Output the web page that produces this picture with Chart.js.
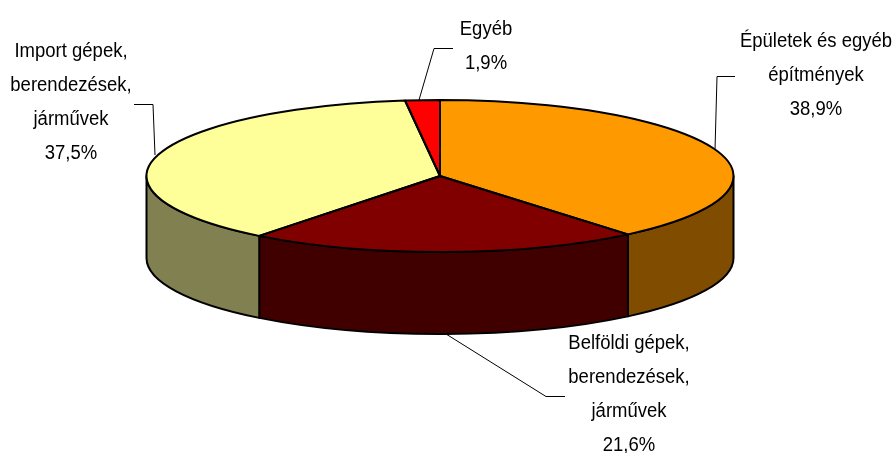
<!DOCTYPE html>
<html><head><meta charset="utf-8">
<style>html,body{margin:0;padding:0;background:#fff}canvas{display:block}</style>
<script src="https://cdn.jsdelivr.net/npm/chart.js@4"></script>
</head><body>
<canvas id="c" width="894" height="453"></canvas>
<script>
const categories = ["Épületek és egyéb építmények","Belföldi gépek, berendezések, járművek","Import gépek, berendezések, járművek","Egyéb"];
const values = [38.9,21.6,37.5,1.9];
const valueLabels = ["38,9%","21,6%","37,5%","1,9%"];
const labelLines = [["Épületek és egyéb","építmények"],["Belföldi gépek,","berendezések,","járművek"],["Import gépek,","berendezések,","járművek"],["Egyéb"]];
const topColors = ["#FF9900","#800000","#FFFF99","#FF0000"];
const sideColors = ["#804D00","#400000","#808050","#800000"];

const view = {cx:440, cy:176, rx:293.5, ry:76, depth:82};
const labelAnchors = [{x:816,y:47},{x:629,y:349},{x:71,y:57},{x:486,y:35}];
const lineStep = 34;
const leaders = [
  [[735,76.5],[717,76.5],[715,150]],
  [[446,334],[546,396.5],[565,396.5]],
  [[134,104.5],[153,104.5],[155,155]],
  [[453,48.5],[434,48.5],[419,100]]
];
const fontCss = '20px "Liberation Sans"';
const textSqueeze = 0.925;

function sideSpans(a,b){
  const spans=[];
  for(const k of [-2,0,2]){
    const lo=Math.max(a,k*Math.PI), hi=Math.min(b,(k+1)*Math.PI);
    if(hi>lo) spans.push([lo,hi]);
  }
  return spans;
}
const pie3d = {
  id:'pie3d',
  beforeDatasetsDraw(chart){
    const ctx=chart.ctx, arcs=chart.getDatasetMeta(0).data;
    const {cx,cy,rx,ry,depth}=view;
    ctx.save();
    ctx.lineWidth=2; ctx.strokeStyle='#000'; ctx.lineJoin='round';
    arcs.forEach((arc,i)=>{
      sideSpans(arc.startAngle,arc.endAngle).forEach(([a,b])=>{
        ctx.beginPath();
        ctx.ellipse(cx,cy,rx,ry,0,a,b);
        ctx.lineTo(cx+rx*Math.cos(b),cy+ry*Math.sin(b)+depth);
        ctx.ellipse(cx,cy+depth,rx,ry,0,b,a,true);
        ctx.closePath();
        ctx.fillStyle=sideColors[i]; ctx.fill(); ctx.stroke();
      });
    });
    ctx.restore();
    const a0=arcs[0], s=a0.outerRadius;
    ctx.save();
    ctx.translate(cx,cy); ctx.scale(rx/s,ry/s); ctx.translate(-a0.x,-a0.y);
  },
  afterDatasetsDraw(chart){
    const ctx=chart.ctx, arcs=chart.getDatasetMeta(0).data;
    const {cx,cy,rx,ry}=view;
    ctx.restore();
    ctx.save();
    ctx.lineWidth=2; ctx.strokeStyle='#000'; ctx.lineJoin='round';
    arcs.forEach(arc=>{
      ctx.beginPath();
      ctx.moveTo(cx,cy);
      ctx.ellipse(cx,cy,rx,ry,0,arc.startAngle,arc.endAngle);
      ctx.closePath();
      ctx.stroke();
    });
    ctx.restore();
  },
  afterDraw(chart){
    const ctx=chart.ctx;
    ctx.save();
    ctx.lineWidth=1; ctx.strokeStyle='#000';
    leaders.forEach(pts=>{
      ctx.beginPath();
      pts.forEach((p,j)=> j? ctx.lineTo(p[0],p[1]) : ctx.moveTo(p[0],p[1]));
      ctx.stroke();
    });
    ctx.fillStyle='#000'; ctx.font=fontCss; ctx.textAlign='center'; ctx.textBaseline='alphabetic';
    categories.forEach((_,i)=>{
      const lines=[...labelLines[i],valueLabels[i]];
      lines.forEach((t,j)=>{
        ctx.save();
        ctx.translate(labelAnchors[i].x,labelAnchors[i].y+j*lineStep);
        ctx.scale(textSqueeze,1);
        ctx.fillText(t,0,0);
        ctx.restore();
      });
    });
    ctx.restore();
  }
};
new Chart(document.getElementById('c'),{
  type:'pie',
  data:{labels:categories,datasets:[{data:values,backgroundColor:topColors,borderWidth:0}]},
  options:{
    responsive:false,animation:false,
    layout:{padding:0},
    plugins:{legend:{display:false},tooltip:{enabled:false}},
    events:[]
  },
  plugins:[pie3d]
});
</script>
</body></html>
